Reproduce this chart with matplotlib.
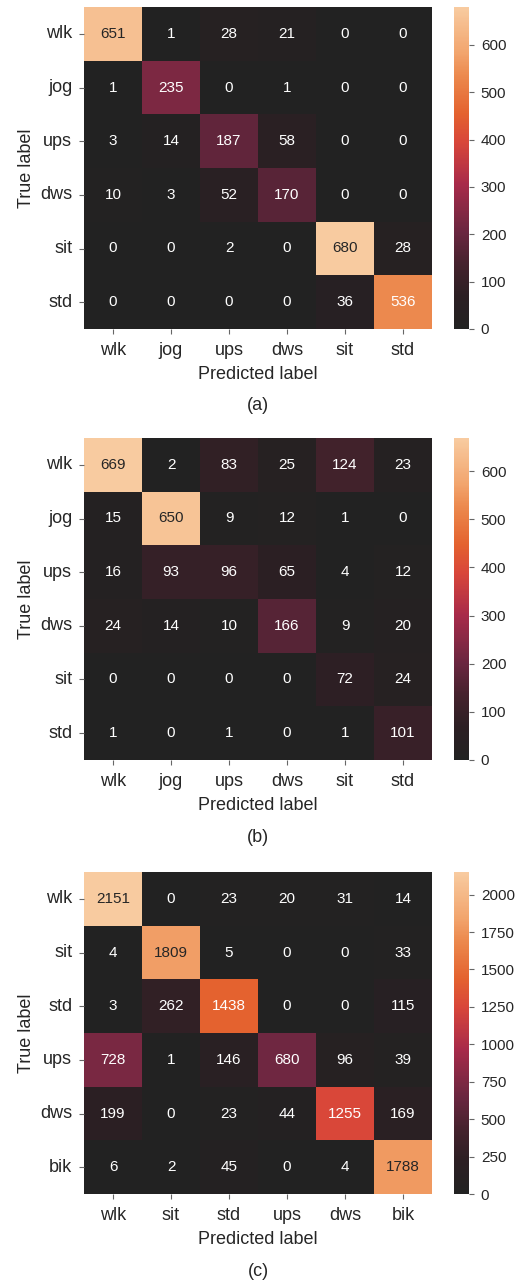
import numpy as np
import matplotlib
matplotlib.use("Agg")
import matplotlib.pyplot as plt
from matplotlib.colors import LinearSegmentedColormap
import seaborn as sns

plt.rcParams['font.family'] = ['Liberation Sans', 'DejaVu Sans']
plt.rcParams['text.color'] = '#262626'
plt.rcParams['axes.labelcolor'] = '#262626'
plt.rcParams['xtick.color'] = '#262626'
plt.rcParams['ytick.color'] = '#262626'

# confusion matrices
labels_ab = ["wlk", "jog", "ups", "dws", "sit", "std"]
labels_c = ["wlk", "sit", "std", "ups", "dws", "bik"]

cm_a = [[651, 1, 28, 21, 0, 0],
        [1, 235, 0, 1, 0, 0],
        [3, 14, 187, 58, 0, 0],
        [10, 3, 52, 170, 0, 0],
        [0, 0, 2, 0, 680, 28],
        [0, 0, 0, 0, 36, 536]]

cm_b = [[669, 2, 83, 25, 124, 23],
        [15, 650, 9, 12, 1, 0],
        [16, 93, 96, 65, 4, 12],
        [24, 14, 10, 166, 9, 20],
        [0, 0, 0, 0, 72, 24],
        [1, 0, 1, 0, 1, 101]]

cm_c = [[2151, 0, 23, 20, 31, 14],
        [4, 1809, 5, 0, 0, 33],
        [3, 262, 1438, 0, 0, 115],
        [728, 1, 146, 680, 96, 39],
        [199, 0, 23, 44, 1255, 169],
        [6, 2, 45, 0, 4, 1788]]

# rocket-like map, as it appears in the printed figure (grey-black low end)
cmap = LinearSegmentedColormap.from_list("printed_rocket", [
    (0.00, "#222222"),
    (0.10, "#2c1f23"),
    (0.20, "#45222d"),
    (0.30, "#6a2640"),
    (0.34, "#7a2842"),
    (0.45, "#a82a4a"),
    (0.58, "#d8463a"),
    (0.67, "#e4622f"),
    (0.79, "#ec8a4e"),
    (0.86, "#f2a56e"),
    (1.00, "#f8cba0"),
])

# (matrix, labels, tag, axes top px, tag y px)
panels = [(cm_a, labels_ab, "(a)", 7, 405),
          (cm_b, labels_ab, "(b)", 438, 838),
          (cm_c, labels_c, "(c)", 872, 1271)]

W, H = 519, 1284
fig = plt.figure(figsize=(W / 100, H / 100), dpi=100)

for cm, labels, tag, top, tag_y in panels:
    h = 322
    ax = fig.add_axes([84 / W, 1 - (top + h) / H, 348 / W, h / H])
    cax = fig.add_axes([454 / W, 1 - (top + h) / H, 15 / W, h / H])
    sns.heatmap(np.array(cm), annot=True, fmt="d", cmap=cmap, vmin=0,
                ax=ax, cbar_ax=cax, xticklabels=labels, yticklabels=labels,
                annot_kws={"fontsize": 11})
    ax.tick_params(axis='both', labelsize=13, color='#666666', length=3.5)
    ax.tick_params(axis='x', pad=6)
    ax.tick_params(axis='y', pad=5)
    ax.set_yticklabels(labels, rotation=0)
    ax.set_xticklabels(labels, rotation=0)
    ax.set_xlabel("Predicted label", fontsize=13, labelpad=5)
    ax.set_ylabel("True label", fontsize=13, labelpad=4)
    cax.tick_params(labelsize=11, color='#666666', length=3.5, pad=5)
    fig.text(258 / W, 1 - tag_y / H, tag, ha='center', va='center',
             fontsize=13)

fig.savefig("out.png", dpi=100)
